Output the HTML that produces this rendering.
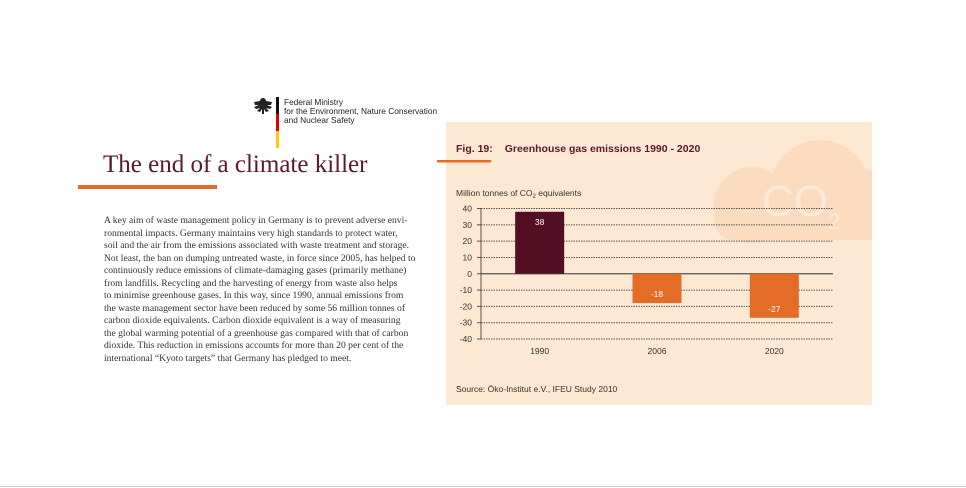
<!DOCTYPE html>
<html><head><meta charset="utf-8"><style>
body{margin:0;width:966px;height:488px;background:#fff;position:relative;overflow:hidden;font-family:"Liberation Sans",sans-serif}
.abs{position:absolute}
#body-text div{white-space:nowrap;height:12.5px;line-height:12.5px}
</style></head><body>
<div class="abs" style="left:252px;top:96px;width:190px;height:56px">
  <svg class="abs" style="left:0;top:0" width="22" height="24" viewBox="0 0 22 24"><path d="M11 2c-2 0-3 2-3 3l-6 1 1 3 4 0-5 2 2 2 4-1-3 3 3 1 2-3 0 5h2l0-5 2 3 3-1-3-3 4 1 2-2-5-2 4 0 1-3-6-1c0-1-1-3-3-3z" fill="#222"/></svg>
  <div class="abs" style="left:24px;top:1px;width:3px;height:17px;background:#111"></div>
  <div class="abs" style="left:24px;top:18px;width:3px;height:17px;background:#d00"></div>
  <div class="abs" style="left:24px;top:35px;width:3px;height:17px;background:#fc0"></div>
  <div class="abs" style="left:32px;top:2px;font-size:8.3px;line-height:9px;color:#222;white-space:nowrap">Federal Ministry<br>for the Environment, Nature Conservation<br>and Nuclear Safety</div>
</div>
<div class="abs" style="left:103px;top:151px;font-family:'Liberation Serif',serif;font-size:25px;color:#5a1a2a;white-space:nowrap">The end of a climate killer</div>
<div class="abs" style="left:78px;top:185px;width:139px;height:4px;background:#e36d27"></div>
<div id="body-text" class="abs" style="left:104px;top:215px;font-family:'Liberation Serif',serif;font-size:9.6px;color:#333">
<div>A key aim of waste management policy in Germany is to prevent adverse envi-</div>
<div>ronmental impacts. Germany maintains very high standards to protect water,</div>
<div>soil and the air from the emissions associated with waste treatment and storage.</div>
<div>Not least, the ban on dumping untreated waste, in force since 2005, has helped to</div>
<div>continuously reduce emissions of climate-damaging gases (primarily methane)</div>
<div>from landfills. Recycling and the harvesting of energy from waste also helps</div>
<div>to minimise greenhouse gases. In this way, since 1990, annual emissions from</div>
<div>the waste management sector have been reduced by some 56 million tonnes of</div>
<div>carbon dioxide equivalents. Carbon dioxide equivalent is a way of measuring</div>
<div>the global warming potential of a greenhouse gas compared with that of carbon</div>
<div>dioxide. This reduction in emissions accounts for more than 20 per cent of the</div>
<div>international “Kyoto targets” that Germany has pledged to meet.</div>
</div>
<div class="abs" style="left:446px;top:122px;width:426px;height:283px;background:#fde8d4"></div>
<svg class="abs" style="left:0;top:0" width="966" height="488" id="chart">
  <defs><clipPath id="pc"><rect x="446" y="122" width="426" height="283"/></clipPath></defs>
  <g fill="#fbdcc0" clip-path="url(#pc)">
    <circle cx="820" cy="190" r="50"/><circle cx="752" cy="205" r="38"/><circle cx="870" cy="205" r="35"/>
    <rect x="714" y="200" width="170" height="40" rx="20"/>
    <text x="762" y="216" font-size="44" fill="#fdeadb" font-family="Liberation Sans,sans-serif">CO</text>
    <text x="828" y="229" font-size="22" fill="#fdeadb" font-family="Liberation Sans,sans-serif">2</text>
  </g>
  <text x="456" y="152" font-size="10.5" font-weight="bold" fill="#5a1a2a">Fig. 19:<tspan dx="12">Greenhouse gas emissions 1990 - 2020</tspan></text>
  <rect x="437" y="160" width="54" height="2.5" fill="#e36d27"/>
  <text x="456" y="196" font-size="8.5" fill="#333">Million tonnes of CO<tspan font-size="6" dy="2">2</tspan><tspan dy="-2"> equivalents</tspan></text>
  <text x="456" y="392" font-size="8.5" fill="#333">Source: Öko-Institut e.V., IFEU Study 2010</text>
  <g id="plot"></g>
</svg>
<div class="abs" style="left:0;top:486px;width:966px;height:1px;background:#ccc"></div>
<script>
const categories=["1990","2006","2020"];
const values=[38,-18,-27];
const barColors=["#520f24","#e36d27","#e36d27"];
const yTicks=[40,30,20,10,0,-10,-20,-30,-40];
const x0=481,x1=833,yTop=208.5,yBot=339;
const y=v=>yTop+(40-v)/80*(yBot-yTop);
const slot=(x1-x0)/categories.length;
const xc=i=>x0+slot*(i+0.5);
const g=document.getElementById('plot');
const NS='http://www.w3.org/2000/svg';
function mk(t,a){const e=document.createElementNS(NS,t);for(const k in a)e.setAttribute(k,a[k]);g.appendChild(e);return e;}
yTicks.forEach(t=>{
  const l=mk('line',{x1:x0,x2:x1,y1:y(t),y2:y(t),stroke:'#555','stroke-width':t===0?1.2:1,'stroke-dasharray':t===0?'':'1.5,1'});
  
  
  const tk=mk('line',{x1:x0-4,x2:x0,y1:y(t),y2:y(t),stroke:'#555'});
  
  
  const tx=mk('text',{x:x0-9,y:y(t)+3,'font-size':8.5,'text-anchor':'end',fill:'#333'});
  tx.textContent=t;
  
  
});
const ax=mk('line',{x1:x0,x2:x0,y1:yTop,y2:yBot,stroke:'#555'});


categories.forEach((c,i)=>{
  const v=values[i],bw=49;
  const r=mk('rect',{x:xc(i)-bw/2,y:Math.min(y(v),y(0)),width:bw,height:Math.abs(y(v)-y(0)),fill:barColors[i]});
  
  
  const vl=mk('text',{x:xc(i),y:v>=0?y(v)+13:y(v)-6,'font-size':8.5,'text-anchor':'middle',fill:'#fff'});
  vl.textContent=v;
  
  
  const cl=mk('text',{x:xc(i),y:354,'font-size':8.5,'text-anchor':'middle',fill:'#333'});
  cl.textContent=c;
  
  
});
</script>
</body></html>
